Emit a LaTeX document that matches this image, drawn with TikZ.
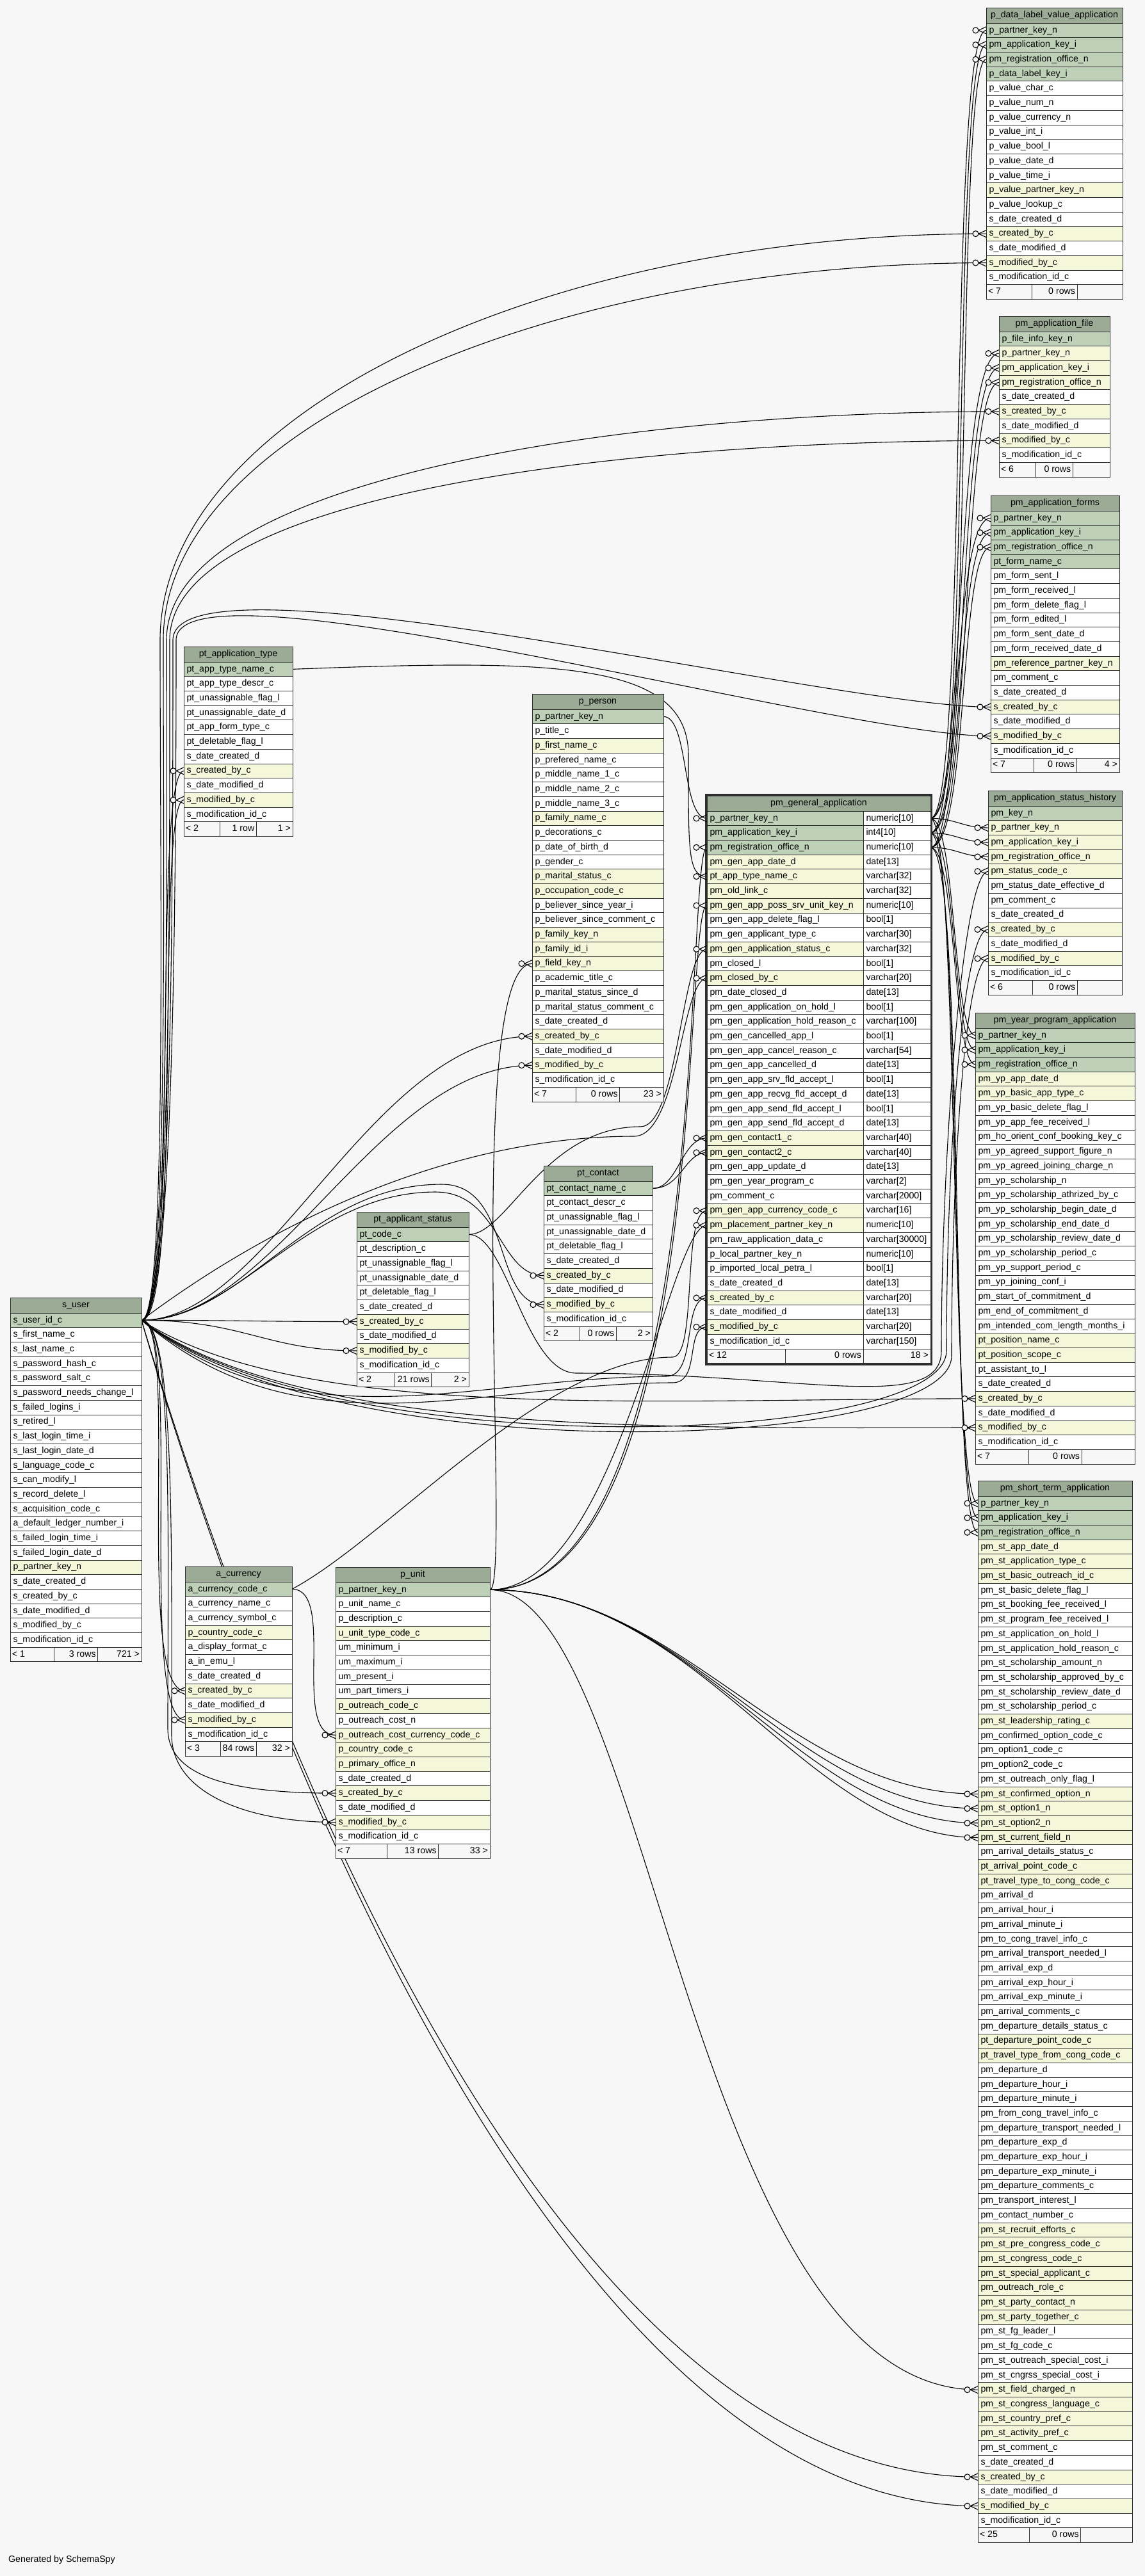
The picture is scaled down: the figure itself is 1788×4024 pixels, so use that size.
\documentclass[tikz,border=0pt]{standalone}
\usepackage{fontspec}
\setmainfont{Liberation Sans}
\usetikzlibrary{backgrounds}
\definecolor{bgc}{HTML}{F7F7F7}
\definecolor{chd}{HTML}{9BAB96}
\definecolor{ck}{HTML}{BED1B8}
\definecolor{cf}{HTML}{F4F7DA}
\definecolor{cn}{HTML}{FFFFFF}
\definecolor{cft}{HTML}{F7F7F7}
\definecolor{bd}{HTML}{2E2E2E}
\pgfdeclarelayer{bottom}
\pgfdeclarelayer{background}
\pgfsetlayers{bottom,background,main}
\catcode`\_=12
\tikzset{
 dbrow/.style={draw=bd, line width=0.8pt, inner xsep=4.5pt, inner ysep=0pt, minimum height=22.7pt, text height=10.6pt, text depth=3.2pt, align=left, outer sep=0pt, anchor=north west},
 dbfoot/.style={draw=bd, line width=0.8pt, inner xsep=3pt, inner ysep=0pt, minimum height=22.7pt, text height=10.6pt, text depth=3.2pt, outer sep=0pt, anchor=north west, fill=cft},
 dbhead/.style={dbrow, fill=chd, align=center, minimum height=24pt},
 fkline/.style={draw=black, line width=1.1pt},
 mkline/.style={draw=black, line width=1.1pt},
}
\newcommand{\dbtable}[9]{%
 \pgfmathsetmacro{\tw}{#4-9}%
 \pgfmathsetmacro{\fw}{#4/3}%
 \pgfmathsetmacro{\ftw}{#4/3-6}%
 \node[dbhead, minimum width=#4pt, text width=\tw pt] (#1-h) at (#2,#3) {#5};
 \foreach \rk/\rt [count=\i] in {#6} {%
   \pgfmathsetmacro{\yy}{#3+24+(\i-1)*22.7}%
   \node[dbrow, fill=c\rk, minimum width=#4pt, text width=\tw pt] (#1-\i) at (#2,\yy) {\rt};
   \xdef\lastrow{\i}}%
 \pgfmathsetmacro{\yf}{#3+24+\lastrow*22.7}%
 \pgfmathsetmacro{\xa}{#2+\fw}%
 \pgfmathsetmacro{\xb}{#2+2*\fw}%
 \node[dbfoot, minimum width=\fw pt] (#1-fl) at (#2,\yf) {\makebox[\ftw pt][l]{#7}};
 \node[dbfoot, minimum width=\fw pt] (#1-fm) at (\xa,\yf) {\makebox[\ftw pt][r]{#8}};
 \node[dbfoot, minimum width=\fw pt] (#1-fr) at (\xb,\yf) {\makebox[\ftw pt][r]{#9}};
}
\newcommand{\sconn}[4]{\draw[fkline] (#1) .. controls +(#3,0) and +(-#4,0) .. (#2);}
\newcommand{\crowmark}[1]{%
 \draw[mkline] (#1) ++(-12,0) -- ++(12,-5.5) (#1) ++(-12,0) -- ++(12,5.5);
 \draw[mkline, fill=bgc] (#1) ++(-16.5,0) circle[radius=4.5];}
\begin{document}
\begin{tikzpicture}[x=1pt,y=-1pt,font=\fontsize{14.2pt}{17pt}\selectfont]
\useasboundingbox (0,0) rectangle (1788,4024);
\begin{pgfonlayer}{bottom}
\fill[bgc] (0,0) rectangle (1788,4024);
\end{pgfonlayer}

% ---------- tables
\dbtable{dlva}{1540}{12}{213}{p_data_label_value_application}{k/p_partner_key_n, k/pm_application_key_i, k/pm_registration_office_n, k/p_data_label_key_i, n/p_value_char_c, n/p_value_num_n, n/p_value_currency_n, n/p_value_int_i, n/p_value_bool_l, n/p_value_date_d, n/p_value_time_i, f/p_value_partner_key_n, n/p_value_lookup_c, n/s_date_created_d, f/s_created_by_c, n/s_date_modified_d, f/s_modified_by_c, n/s_modification_id_c}{< 7}{0 rows}{}

\dbtable{file}{1560}{494}{173}{pm_application_file}{k/p_file_info_key_n, f/p_partner_key_n, f/pm_application_key_i, f/pm_registration_office_n, n/s_date_created_d, f/s_created_by_c, n/s_date_modified_d, f/s_modified_by_c, n/s_modification_id_c}{< 6}{0 rows}{}

\dbtable{forms}{1547}{774}{201}{pm_application_forms}{k/p_partner_key_n, k/pm_application_key_i, k/pm_registration_office_n, k/pt_form_name_c, n/pm_form_sent_l, n/pm_form_received_l, n/pm_form_delete_flag_l, n/pm_form_edited_l, n/pm_form_sent_date_d, n/pm_form_received_date_d, f/pm_reference_partner_key_n, n/pm_comment_c, n/s_date_created_d, f/s_created_by_c, n/s_date_modified_d, f/s_modified_by_c, n/s_modification_id_c}{< 7}{0 rows}{4 >}

\dbtable{hist}{1543}{1235}{209}{pm_application_status_history}{k/pm_key_n, f/p_partner_key_n, f/pm_application_key_i, f/pm_registration_office_n, f/pm_status_code_c, n/pm_status_date_effective_d, n/pm_comment_c, n/s_date_created_d, f/s_created_by_c, n/s_date_modified_d, f/s_modified_by_c, n/s_modification_id_c}{< 6}{0 rows}{}

\dbtable{yp}{1523}{1582}{249}{pm_year_program_application}{k/p_partner_key_n, k/pm_application_key_i, k/pm_registration_office_n, f/pm_yp_app_date_d, f/pm_yp_basic_app_type_c, n/pm_yp_basic_delete_flag_l, n/pm_yp_app_fee_received_l, n/pm_ho_orient_conf_booking_key_c, n/pm_yp_agreed_support_figure_n, n/pm_yp_agreed_joining_charge_n, n/pm_yp_scholarship_n, n/pm_yp_scholarship_athrized_by_c, n/pm_yp_scholarship_begin_date_d, n/pm_yp_scholarship_end_date_d, n/pm_yp_scholarship_review_date_d, n/pm_yp_scholarship_period_c, n/pm_yp_support_period_c, n/pm_yp_joining_conf_i, n/pm_start_of_commitment_d, n/pm_end_of_commitment_d, n/pm_intended_com_length_months_i, f/pt_position_name_c, f/pt_position_scope_c, n/pt_assistant_to_l, n/s_date_created_d, f/s_created_by_c, n/s_date_modified_d, f/s_modified_by_c, n/s_modification_id_c}{< 7}{0 rows}{}

\dbtable{st}{1527}{2313}{241}{pm_short_term_application}{k/p_partner_key_n, k/pm_application_key_i, k/pm_registration_office_n, f/pm_st_app_date_d, f/pm_st_application_type_c, f/pm_st_basic_outreach_id_c, n/pm_st_basic_delete_flag_l, n/pm_st_booking_fee_received_l, n/pm_st_program_fee_received_l, n/pm_st_application_on_hold_l, n/pm_st_application_hold_reason_c, n/pm_st_scholarship_amount_n, n/pm_st_scholarship_approved_by_c, n/pm_st_scholarship_review_date_d, n/pm_st_scholarship_period_c, f/pm_st_leadership_rating_c, n/pm_confirmed_option_code_c, n/pm_option1_code_c, n/pm_option2_code_c, n/pm_st_outreach_only_flag_l, f/pm_st_confirmed_option_n, f/pm_st_option1_n, f/pm_st_option2_n, f/pm_st_current_field_n, n/pm_arrival_details_status_c, f/pt_arrival_point_code_c, f/pt_travel_type_to_cong_code_c, n/pm_arrival_d, n/pm_arrival_hour_i, n/pm_arrival_minute_i, n/pm_to_cong_travel_info_c, n/pm_arrival_transport_needed_l, n/pm_arrival_exp_d, n/pm_arrival_exp_hour_i, n/pm_arrival_exp_minute_i, n/pm_arrival_comments_c, n/pm_departure_details_status_c, f/pt_departure_point_code_c, f/pt_travel_type_from_cong_code_c, n/pm_departure_d, n/pm_departure_hour_i, n/pm_departure_minute_i, n/pm_from_cong_travel_info_c, n/pm_departure_transport_needed_l, n/pm_departure_exp_d, n/pm_departure_exp_hour_i, n/pm_departure_exp_minute_i, n/pm_departure_comments_c, n/pm_transport_interest_l, n/pm_contact_number_c, f/pm_st_recruit_efforts_c, f/pm_st_pre_congress_code_c, f/pm_st_congress_code_c, f/pm_st_special_applicant_c, f/pm_outreach_role_c, f/pm_st_party_contact_n, f/pm_st_party_together_c, n/pm_st_fg_leader_l, n/pm_st_fg_code_c, n/pm_st_outreach_special_cost_i, n/pm_st_cngrss_special_cost_i, f/pm_st_field_charged_n, f/pm_st_congress_language_c, f/pm_st_country_pref_c, f/pm_st_activity_pref_c, n/pm_st_comment_c, n/s_date_created_d, f/s_created_by_c, n/s_date_modified_d, f/s_modified_by_c, n/s_modification_id_c}{< 25}{0 rows}{}

\dbtable{person}{831}{1084}{205}{p_person}{k/p_partner_key_n, n/p_title_c, f/p_first_name_c, n/p_prefered_name_c, n/p_middle_name_1_c, n/p_middle_name_2_c, n/p_middle_name_3_c, f/p_family_name_c, n/p_decorations_c, n/p_date_of_birth_d, n/p_gender_c, f/p_marital_status_c, f/p_occupation_code_c, n/p_believer_since_year_i, n/p_believer_since_comment_c, f/p_family_key_n, f/p_family_id_i, f/p_field_key_n, n/p_academic_title_c, n/p_marital_status_since_d, n/p_marital_status_comment_c, n/s_date_created_d, f/s_created_by_c, n/s_date_modified_d, f/s_modified_by_c, n/s_modification_id_c}{< 7}{0 rows}{23 >}

\dbtable{apptype}{287}{1010}{170}{pt_application_type}{k/pt_app_type_name_c, n/pt_app_type_descr_c, n/pt_unassignable_flag_l, n/pt_unassignable_date_d, n/pt_app_form_type_c, n/pt_deletable_flag_l, n/s_date_created_d, f/s_created_by_c, n/s_date_modified_d, f/s_modified_by_c, n/s_modification_id_c}{< 2}{1 row}{1 >}

\dbtable{user}{16}{2027}{205}{s_user}{k/s_user_id_c, n/s_first_name_c, n/s_last_name_c, n/s_password_hash_c, n/s_password_salt_c, n/s_password_needs_change_l, n/s_failed_logins_i, n/s_retired_l, n/s_last_login_time_i, n/s_last_login_date_d, n/s_language_code_c, n/s_can_modify_l, n/s_record_delete_l, n/s_acquisition_code_c, n/a_default_ledger_number_i, n/s_failed_login_time_i, n/s_failed_login_date_d, f/p_partner_key_n, n/s_date_created_d, n/s_created_by_c, n/s_date_modified_d, n/s_modified_by_c, n/s_modification_id_c}{< 1}{3 rows}{721 >}

\dbtable{appstatus}{557}{1893}{175}{pt_applicant_status}{k/pt_code_c, n/pt_description_c, n/pt_unassignable_flag_l, n/pt_unassignable_date_d, n/pt_deletable_flag_l, n/s_date_created_d, f/s_created_by_c, n/s_date_modified_d, f/s_modified_by_c, n/s_modification_id_c}{< 2}{21 rows}{2 >}

\dbtable{contact}{849}{1821}{170}{pt_contact}{k/pt_contact_name_c, n/pt_contact_descr_c, n/pt_unassignable_flag_l, n/pt_unassignable_date_d, n/pt_deletable_flag_l, n/s_date_created_d, f/s_created_by_c, n/s_date_modified_d, f/s_modified_by_c, n/s_modification_id_c}{< 2}{0 rows}{2 >}

\dbtable{currency}{289}{2447}{167}{a_currency}{k/a_currency_code_c, n/a_currency_name_c, n/a_currency_symbol_c, f/p_country_code_c, n/a_display_format_c, n/a_in_emu_l, n/s_date_created_d, f/s_created_by_c, n/s_date_modified_d, f/s_modified_by_c, n/s_modification_id_c}{< 3}{84 rows}{32 >}

\dbtable{unit}{524}{2448}{241}{p_unit}{k/p_partner_key_n, n/p_unit_name_c, n/p_description_c, f/u_unit_type_code_c, n/um_minimum_i, n/um_maximum_i, n/um_present_i, n/um_part_timers_i, f/p_outreach_code_c, n/p_outreach_cost_n, f/p_outreach_cost_currency_code_c, f/p_country_code_c, f/p_primary_office_n, n/s_date_created_d, f/s_created_by_c, n/s_date_modified_d, f/s_modified_by_c, n/s_modification_id_c}{< 7}{13 rows}{33 >}

% pm_general_application (two columns)
\node[dbhead, minimum width=349pt, text width=340pt] (gen-h) at (1104,1243) {pm_general_application};
\foreach \rk/\rt/\ry [count=\i] in {k/p_partner_key_n/numeric[10], k/pm_application_key_i/int4[10], k/pm_registration_office_n/numeric[10], f/pm_gen_app_date_d/date[13], f/pt_app_type_name_c/varchar[32], f/pm_old_link_c/varchar[32], f/pm_gen_app_poss_srv_unit_key_n/numeric[10], n/pm_gen_app_delete_flag_l/bool[1], n/pm_gen_applicant_type_c/varchar[30], f/pm_gen_application_status_c/varchar[32], n/pm_closed_l/bool[1], f/pm_closed_by_c/varchar[20], n/pm_date_closed_d/date[13], n/pm_gen_application_on_hold_l/bool[1], n/pm_gen_application_hold_reason_c/varchar[100], n/pm_gen_cancelled_app_l/bool[1], n/pm_gen_app_cancel_reason_c/varchar[54], n/pm_gen_app_cancelled_d/date[13], n/pm_gen_app_srv_fld_accept_l/bool[1], n/pm_gen_app_recvg_fld_accept_d/date[13], n/pm_gen_app_send_fld_accept_l/bool[1], n/pm_gen_app_send_fld_accept_d/date[13], f/pm_gen_contact1_c/varchar[40], f/pm_gen_contact2_c/varchar[40], n/pm_gen_app_update_d/date[13], n/pm_gen_year_program_c/varchar[2], n/pm_comment_c/varchar[2000], f/pm_gen_app_currency_code_c/varchar[16], f/pm_placement_partner_key_n/numeric[10], n/pm_raw_application_data_c/varchar[30000], n/p_local_partner_key_n/numeric[10], n/p_imported_local_petra_l/bool[1], n/s_date_created_d/date[13], f/s_created_by_c/varchar[20], n/s_date_modified_d/date[13], f/s_modified_by_c/varchar[20], n/s_modification_id_c/varchar[150]} {%
  \pgfmathsetmacro{\yy}{1267+(\i-1)*22.7}%
  \node[dbrow, fill=c\rk, minimum width=244pt, text width=235pt] (gen-\i) at (1104,\yy) {\rt};
  \node[dbrow, fill=cn, minimum width=105pt, text width=96pt] (gen-t\i) at (1348,\yy) {\ry};
}
\node[dbfoot, minimum width=122pt] (gen-fl) at (1104,2106.9) {\makebox[116pt][l]{< 12}};
\node[dbfoot, minimum width=122pt] (gen-fm) at (1226,2106.9) {\makebox[116pt][r]{0 rows}};
\node[dbfoot, minimum width=105pt] (gen-fr) at (1348,2106.9) {\makebox[99pt][r]{18 >}};
\draw[line width=3pt, draw=bd] (1102.5,1241.5) rectangle (1454.5,2131.1);

\node[anchor=west, inner sep=0pt] (credit) at (13,3999) {Generated by SchemaSpy};

% ---------- waypoints
\coordinate (lc1) at (250,1000);
\coordinate (lc2) at (255,1000);
\coordinate (lc3) at (260,1000);
\coordinate (lc4) at (265,1000);
\coordinate (lc5) at (270,1000);
\coordinate (lc6) at (275,1000);
\coordinate (wh9) at (1478,2110);
\coordinate (wh11) at (1486,2118);
\coordinate (wg12) at (990,1775);
\coordinate (wg34) at (1040,2150);
\coordinate (wg36) at (1050,2160);
\coordinate (wk7) at (680,1862);
\coordinate (wk9) at (690,1850);
\coordinate (wu15) at (262,2700);
\coordinate (wu17) at (268,2710);
\coordinate (wa5) at (1075,1180);
\coordinate (ws10) at (1000,1760);
\coordinate (ws5a) at (900,2145);
\coordinate (ws5b) at (1470,2110);
\coordinate (wc28) at (1050,2120);

% ---------- connectors (behind tables)
\begin{pgfonlayer}{background}
% pm_general_application PK -> dependants
\sconn{gen-t1.east}{dlva-1.west}{60}{60}
\sconn{gen-t2.east}{dlva-2.west}{65}{55}
\sconn{gen-t3.east}{dlva-3.west}{70}{50}
\sconn{gen-t1.east}{file-2.west}{55}{70}
\sconn{gen-t2.east}{file-3.west}{60}{65}
\sconn{gen-t3.east}{file-4.west}{65}{60}
\sconn{gen-t1.east}{forms-1.west}{50}{60}
\sconn{gen-t2.east}{forms-2.west}{55}{55}
\sconn{gen-t3.east}{forms-3.west}{60}{50}
\sconn{gen-t1.east}{hist-2.west}{40}{40}
\sconn{gen-t2.east}{hist-3.west}{40}{40}
\sconn{gen-t3.east}{hist-4.west}{40}{40}
\sconn{gen-t1.east}{yp-1.west}{40}{35}
\sconn{gen-t2.east}{yp-2.west}{40}{35}
\sconn{gen-t3.east}{yp-3.west}{40}{35}
\sconn{gen-t1.east}{st-1.west}{45}{45}
\sconn{gen-t2.east}{st-2.west}{50}{45}
\sconn{gen-t3.east}{st-3.west}{55}{45}
% s_user -> audit columns
\sconn{user-1.east}{apptype-8.west}{60}{50}
\sconn{user-1.east}{apptype-10.west}{65}{45}
\draw[fkline] (user-1.east) .. controls +(40,0) and +(0,400) .. (lc1) .. controls +(0,-350) and +(-700,0) .. (dlva-15.west);
\draw[fkline] (user-1.east) .. controls +(42,0) and +(0,400) .. (lc2) .. controls +(0,-330) and +(-680,0) .. (dlva-17.west);
\draw[fkline] (user-1.east) .. controls +(44,0) and +(0,400) .. (lc3) .. controls +(0,-250) and +(-600,0) .. (file-6.west);
\draw[fkline] (user-1.east) .. controls +(46,0) and +(0,400) .. (lc4) .. controls +(0,-230) and +(-580,0) .. (file-8.west);
\draw[fkline] (user-1.east) .. controls +(48,0) and +(0,400) .. (lc5) .. controls +(0,-150) and +(-250,0) .. (forms-14.west);
\draw[fkline] (user-1.east) .. controls +(50,0) and +(0,400) .. (lc6) .. controls +(0,-140) and +(-240,0) .. (forms-16.west);
\draw[fkline] (user-1.east) .. controls +(300,230) and +(0,150) .. (wh9) .. controls +(0,-300) and +(-40,0) .. (hist-9.west);
\draw[fkline] (user-1.east) .. controls +(300,240) and +(0,150) .. (wh11) .. controls +(0,-300) and +(-35,0) .. (hist-11.west);
\draw[fkline] (user-1.east) .. controls +(250,160) and +(-500,0) .. (yp-26.west);
\draw[fkline] (user-1.east) .. controls +(250,180) and +(-500,0) .. (yp-28.west);
\draw[fkline] (user-1.east) .. controls +(150,500) and +(-700,0) .. (st-68.west);
\draw[fkline] (user-1.east) .. controls +(150,520) and +(-680,0) .. (st-70.west);
\draw[fkline] (user-1.east) .. controls +(200,-150) and +(-290,0) .. (wg12) .. controls +(70,0) and +(-40,0) .. (gen-12.west);
\draw[fkline] (user-1.east) .. controls +(250,200) and +(-300,0) .. (wg34) .. controls +(50,0) and +(-40,0) .. (gen-34.west);
\draw[fkline] (user-1.east) .. controls +(250,215) and +(-300,0) .. (wg36) .. controls +(45,0) and +(-35,0) .. (gen-36.west);
\sconn{user-1.east}{person-23.west}{200}{250}
\sconn{user-1.east}{person-25.west}{210}{240}
\sconn{user-1.east}{appstatus-7.west}{150}{150}
\sconn{user-1.east}{appstatus-9.west}{160}{140}
\draw[fkline] (user-1.east) .. controls +(150,0) and +(-200,0) .. (wk7) .. controls +(100,0) and +(-70,0) .. (contact-7.west);
\draw[fkline] (user-1.east) .. controls +(160,0) and +(-210,0) .. (wk9) .. controls +(110,0) and +(-80,0) .. (contact-9.west);
\sconn{user-1.east}{currency-8.west}{60}{80}
\sconn{user-1.east}{currency-10.west}{65}{75}
\draw[fkline] (user-1.east) .. controls +(50,0) and +(0,-300) .. (wu15) .. controls +(0,80) and +(-150,0) .. (unit-15.west);
\draw[fkline] (user-1.east) .. controls +(52,0) and +(0,-300) .. (wu17) .. controls +(0,90) and +(-140,0) .. (unit-17.west);
% other parents
\sconn{person-1.east}{gen-1.west}{40}{40}
\draw[fkline] (apptype-1.east) .. controls +(400,-15) and +(0,-150) .. (wa5) .. controls +(0,150) and +(-30,0) .. (gen-5.west);
\sconn{contact-1.east}{gen-23.west}{40}{40}
\sconn{contact-1.east}{gen-24.west}{45}{35}
\draw[fkline] (appstatus-1.east) .. controls +(60,0) and +(-150,0) .. (ws10) .. controls +(60,0) and +(-40,0) .. (gen-10.west);
\draw[fkline] (appstatus-1.east) .. controls +(60,0) and +(-80,0) .. (ws5a) .. controls +(350,0) and +(0,100) .. (ws5b) .. controls +(0,-300) and +(-40,0) .. (hist-5.west);
\draw[fkline] (currency-1.east) .. controls +(150,-80) and +(-200,0) .. (wc28) .. controls +(40,0) and +(-40,0) .. (gen-28.west);
\sconn{currency-1.east}{unit-11.west}{70}{70}
\sconn{unit-1.east}{gen-3.west}{350}{35}
\sconn{unit-1.east}{gen-7.west}{345}{38}
\sconn{unit-1.east}{gen-29.west}{200}{60}
\sconn{unit-1.east}{person-18.west}{35}{110}
\sconn{unit-1.east}{st-21.west}{300}{300}
\sconn{unit-1.east}{st-22.west}{310}{290}
\sconn{unit-1.east}{st-23.west}{320}{280}
\sconn{unit-1.east}{st-24.west}{330}{270}
\sconn{unit-1.east}{st-62.west}{250}{450}
\end{pgfonlayer}

% ---------- crow's-foot markers at the referencing columns
\foreach \m in {dlva-1,dlva-2,dlva-3,dlva-15,dlva-17,file-2,file-3,file-4,file-6,file-8,forms-1,forms-2,forms-3,forms-14,forms-16,hist-2,hist-3,hist-4,hist-5,hist-9,hist-11,yp-1,yp-2,yp-3,yp-26,yp-28,st-1,st-2,st-3,st-21,st-22,st-23,st-24,st-62,st-68,st-70,gen-1,gen-3,gen-5,gen-7,gen-10,gen-12,gen-23,gen-24,gen-28,gen-29,gen-34,gen-36,person-18,person-23,person-25,apptype-8,apptype-10,appstatus-7,appstatus-9,contact-7,contact-9,currency-8,currency-10,unit-11,unit-15,unit-17}{\crowmark{\m.west}}

\end{tikzpicture}
\end{document}
